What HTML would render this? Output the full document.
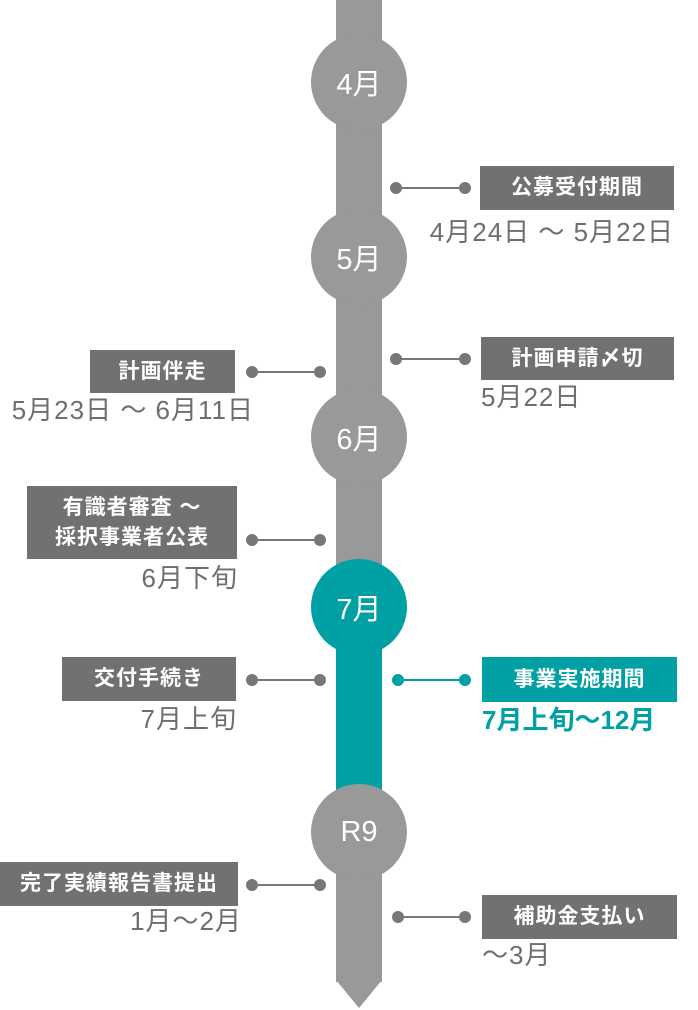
<!DOCTYPE html>
<html><head><meta charset="utf-8"><style>
body{margin:0;width:698px;height:1010px;background:#fff;position:relative;overflow:hidden;font-family:"Liberation Sans","Noto Sans CJK JP",sans-serif}
.a{position:absolute}
.c{position:absolute;width:96px;height:96px;border-radius:50%;background:#999;color:#fff;font-size:29px;display:flex;align-items:center;justify-content:center;left:311px}
.b{position:absolute;background:#717171;color:#fff;font-size:21px;font-weight:bold;display:flex;align-items:center;justify-content:center;text-align:center;line-height:30px;letter-spacing:1px}
.d{position:absolute;color:#6e6e6e;font-size:26px;white-space:nowrap;line-height:30px;letter-spacing:1px}
.r{text-align:right}
.l{position:absolute;height:1.5px;background:#777}
.dot{position:absolute;width:12px;height:12px;border-radius:50%;background:#777}
.t{background:#00a0a5!important}
</style></head><body>
<div class="a" style="left:336px;top:0;width:46px;height:982px;background:#999"></div>
<svg class="a" style="left:336px;top:980px" width="46" height="30"><polygon points="0,0 46,0 23,28" fill="#999"/></svg>
<div class="a t" style="left:336px;top:606px;width:46px;height:185px"></div>
<div class="c" style="top:34px">4月</div>
<div class="c" style="top:209px">5月</div>
<div class="c" style="top:389px">6月</div>
<div class="c t" style="top:559px">7月</div>
<div class="c" style="top:784px">R9</div>

<div class="dot" style="left:390px;top:182px"></div><div class="l" style="left:396px;top:187px;width:69px"></div><div class="dot" style="left:459px;top:182px"></div>
<div class="b" style="left:480px;top:166px;width:194px;height:44px">公募受付期間</div>
<div class="d r" style="right:24px;top:217px">4月24日 ～ 5月22日</div>

<div class="dot" style="left:390px;top:353px"></div><div class="l" style="left:396px;top:358px;width:69px"></div><div class="dot" style="left:459px;top:353px"></div>
<div class="b" style="left:481px;top:337px;width:193px;height:43px">計画申請〆切</div>
<div class="d" style="left:481px;top:382px">5月22日</div>

<div class="dot" style="left:246px;top:366px"></div><div class="l" style="left:252px;top:371px;width:68px"></div><div class="dot" style="left:314px;top:366px"></div>
<div class="b" style="left:90px;top:350px;width:145px;height:43px">計画伴走</div>
<div class="d r" style="right:444px;top:395px">5月23日 ～ 6月11日</div>

<div class="dot" style="left:246px;top:534px"></div><div class="l" style="left:252px;top:539px;width:68px"></div><div class="dot" style="left:314px;top:534px"></div>
<div class="b" style="left:27px;top:486px;width:210px;height:73px">有識者審査 ～<br>採択事業者公表</div>
<div class="d r" style="right:460px;top:563px">6月下旬</div>

<div class="dot" style="left:246px;top:674px"></div><div class="l" style="left:252px;top:679px;width:68px"></div><div class="dot" style="left:314px;top:674px"></div>
<div class="b" style="left:62px;top:657px;width:174px;height:44px">交付手続き</div>
<div class="d r" style="right:461px;top:704px">7月上旬</div>

<div class="dot t" style="left:392px;top:674px"></div><div class="l t" style="left:398px;top:679px;width:67px"></div><div class="dot t" style="left:459px;top:674px"></div>
<div class="b t" style="left:482px;top:657px;width:195px;height:45px">事業実施期間</div>
<div class="d" style="left:482px;top:705px;color:#00a0a5;font-weight:bold;letter-spacing:0">7月上旬～12月</div>

<div class="dot" style="left:246px;top:879px"></div><div class="l" style="left:252px;top:884px;width:68px"></div><div class="dot" style="left:314px;top:879px"></div>
<div class="b" style="left:0;top:862px;width:238px;height:44px">完了実績報告書提出</div>
<div class="d r" style="right:456px;top:906px">1月～2月</div>

<div class="dot" style="left:392px;top:911px"></div><div class="l" style="left:398px;top:916px;width:67px"></div><div class="dot" style="left:459px;top:911px"></div>
<div class="b" style="left:482px;top:895px;width:195px;height:44px">補助金支払い</div>
<div class="d" style="left:482px;top:940px">～3月</div>
</body></html>
